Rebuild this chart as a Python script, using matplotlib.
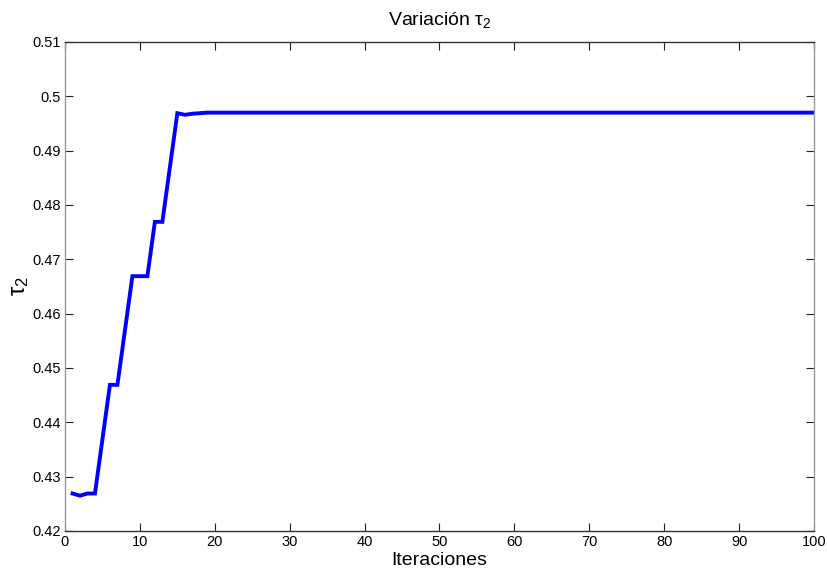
import matplotlib
matplotlib.use("Agg")
import matplotlib.pyplot as plt

plt.rcParams['font.family'] = ['Liberation Sans Narrow', 'Liberation Sans', 'DejaVu Sans']
plt.rcParams['mathtext.fontset'] = 'custom'
plt.rcParams['mathtext.rm'] = 'Liberation Sans'
plt.rcParams['mathtext.it'] = 'Liberation Sans'

# tau_2 per iteration
iterations = list(range(1, 101))
tau2_head = [0.4269, 0.4265, 0.4269, 0.4269, 0.4369, 0.4469, 0.4469, 0.4569,
             0.4669, 0.4669, 0.4669, 0.4769, 0.4769, 0.4869, 0.4969, 0.4966,
             0.4968, 0.4969]
tau2_tail = [0.4970] * (100 - len(tau2_head))
tau2 = tau2_head + tau2_tail

xticks = [0, 10, 20, 30, 40, 50, 60, 70, 80, 90, 100]
yticks = [0.42, 0.43, 0.44, 0.45, 0.46, 0.47, 0.48, 0.49, 0.50, 0.51]
ytick_labels = ['0.42', '0.43', '0.44', '0.45', '0.46', '0.47', '0.48', '0.49', '0.5', '0.51']

fig = plt.figure(figsize=(8.28, 5.73), dpi=100)
ax = fig.add_axes([65 / 828, 1 - 531 / 573, (814 - 65) / 828, (531 - 42) / 573])

ax.plot(iterations, tau2, color='#0000ff', linewidth=2.8, solid_joinstyle='miter')

ax.set_xlim(0, 100)
ax.set_ylim(0.42, 0.51)
ax.set_xticks(xticks)
ax.set_yticks(yticks)
ax.set_yticklabels(ytick_labels)
ax.tick_params(direction='in', length=6, width=0.8, color='#222222',
               labelsize=10.5, top=True, right=True, pad=3)

for side in ('left', 'right'):
    ax.spines[side].set_color('#999999')
    ax.spines[side].set_linewidth(1.0)
for side in ('top', 'bottom'):
    ax.spines[side].set_color('#333333')
    ax.spines[side].set_linewidth(1.0)

ax.set_title(r'Variación $\tau_2$', fontsize=14, pad=12)
ax.set_xlabel('Iteraciones', fontsize=14, labelpad=2)
ax.set_ylabel(r'$\tau_2$', fontsize=17)
ax.yaxis.set_label_coords(-0.046, 0.5)

fig.savefig('out.png', dpi=100)
